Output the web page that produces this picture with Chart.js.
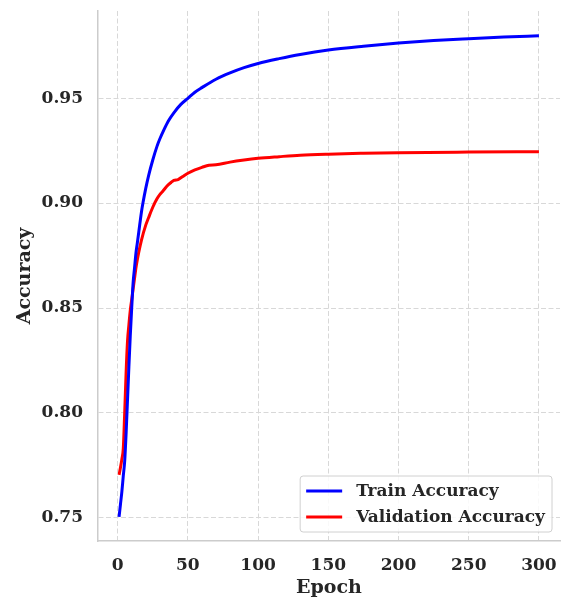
<!DOCTYPE html>
<html><head><meta charset="utf-8">
<script src="https://cdn.jsdelivr.net/npm/chart.js@4"></script>
<style>html,body{margin:0;padding:0;background:#fff}#wrap{width:561px;height:599px}</style>
</head><body><div id="wrap"><canvas id="c" width="561" height="599"></canvas></div>
<script>
const trainEpochs = [1,2,3,4,5,6,7,8,9,10,11,12,13,14,15,17,18,20,22,25,28,30,33,36,40,45,50,55,60,70,80,90,100,115,130,150,175,200,225,250,275,300];
const trainAcc = [0.7505,0.7565,0.7625,0.7700,0.7770,0.7900,0.8060,0.8220,0.8370,0.8500,0.8620,0.8690,0.8760,0.8810,0.8860,0.8960,0.9000,0.9070,0.9130,0.9205,0.9270,0.9305,0.9350,0.9390,0.9430,0.9470,0.9499,0.9528,0.9550,0.9590,0.9620,0.9645,0.9665,0.9688,0.9708,0.9729,0.9747,0.9762,0.9774,0.9783,0.9791,0.9797];
const valEpochs = [1,2,3,4,5,6,7,8,9,10,11,12,13,14,15,17,20,22,25,28,30,32,35,38,40,43,46,50,55,60,65,70,80,90,100,115,130,150,175,200,250,300];
const valAcc = [0.7705,0.7740,0.7780,0.7830,0.8000,0.8190,0.8340,0.8420,0.8490,0.8540,0.8590,0.8640,0.8690,0.8730,0.8765,0.8825,0.8895,0.8930,0.8980,0.9020,0.9040,0.9055,0.9080,0.9098,0.9108,0.9112,0.9125,0.9142,0.9158,0.9170,0.9180,0.9182,0.9195,0.9205,0.9213,0.9221,0.9228,0.9233,0.9237,0.9240,0.9243,0.9245];
const xTicks = [0,50,100,150,200,250,300];
const yTicks = [0.75,0.80,0.85,0.90,0.95];
const seriesLabels = ['Train Accuracy','Validation Accuracy'];
const xTitle = 'Epoch';
const yTitle = 'Accuracy';

const FONT = '"DejaVu Serif", serif';
const TXT = '#262626';

const legendPlugin = {
  id: 'boxLegend',
  afterDraw(chart) {
    const ctx = chart.ctx, ca = chart.chartArea;
    ctx.save();
    ctx.font = 'bold 17px ' + FONT;
    const ds = chart.data.datasets;
    let tw = 0;
    ds.forEach(d => { tw = Math.max(tw, ctx.measureText(d.label).width); });
    const padL = 6, lineLen = 36, gap = 14, padR = 7, rowH = 26;
    const w = padL + lineLen + gap + tw + padR;
    const h = 56;
    const right = ca.right - 8, bottom = ca.bottom - 9;
    const x0 = right - w, y0 = bottom - h;
    ctx.beginPath();
    ctx.roundRect(x0, y0, w, h, 3);
    ctx.fillStyle = 'rgba(255,255,255,0.85)';
    ctx.fill();
    ctx.lineWidth = 1;
    ctx.strokeStyle = '#d0d0d0';
    ctx.stroke();
    ds.forEach((d, i) => {
      const y = y0 + 15 + i * rowH;
      ctx.beginPath();
      ctx.moveTo(x0 + padL, y);
      ctx.lineTo(x0 + padL + lineLen, y);
      ctx.lineWidth = 3;
      ctx.strokeStyle = d.borderColor;
      ctx.stroke();
      ctx.fillStyle = TXT;
      ctx.textBaseline = 'middle';
      ctx.textAlign = 'left';
      ctx.fillText(d.label, x0 + padL + lineLen + gap, y + 1);
    });
    ctx.restore();
  }
};

const bgPlugin = {
  id: 'bg',
  beforeDraw(chart) {
    const ctx = chart.ctx;
    ctx.save(); ctx.fillStyle = '#fff'; ctx.fillRect(0, 0, chart.width, chart.height); ctx.restore();
  }
};

function zeroPad(s) { s.paddingLeft = 0; s.paddingRight = 0; s.paddingTop = 0; s.paddingBottom = 0; }

new Chart(document.getElementById('c'), {
  type: 'line',
  data: {
    datasets: [
      { label: seriesLabels[0], data: trainEpochs.map((e, i) => ({ x: e, y: trainAcc[i] })),
        borderColor: '#0000ff', borderWidth: 3, pointRadius: 0, cubicInterpolationMode: 'monotone', fill: false },
      { label: seriesLabels[1], data: valEpochs.map((e, i) => ({ x: e, y: valAcc[i] })),
        borderColor: '#ff0000', borderWidth: 3, pointRadius: 0, cubicInterpolationMode: 'monotone', fill: false }
    ]
  },
  options: {
    responsive: false,
    animation: false,
    devicePixelRatio: 1,
    layout: { padding: { top: 11, right: 1, left: 0, bottom: 0 } },
    plugins: { legend: { display: false }, tooltip: { enabled: false } },
    scales: {
      x: {
        type: 'linear', min: -14, max: 315,
        afterBuildTicks: s => { s.ticks = xTicks.map(v => ({ value: v })); },
        afterFit: s => { s.height = 58; zeroPad(s); },
        grid: { color: '#d8d8d8', lineWidth: 1, drawTicks: false },
        border: { display: true, color: '#cccccc', width: 1.5, dash: [5, 2.5] },
        ticks: { padding: 14, color: TXT, font: { family: FONT, size: 17, weight: 'bold' }, maxRotation: 0, callback: v => String(v) },
        title: { display: true, text: xTitle, color: TXT, font: { family: FONT, size: 19, weight: 'bold' }, padding: { top: 0, bottom: 0 } }
      },
      y: {
        type: 'linear', min: 0.739, max: 0.9915,
        afterBuildTicks: s => { s.ticks = yTicks.map(v => ({ value: v })); },
        afterFit: s => { s.width = 98; zeroPad(s); },
        grid: { color: '#d8d8d8', lineWidth: 1, drawTicks: false },
        border: { display: true, color: '#cccccc', width: 1.5, dash: [5, 2.5] },
        ticks: { padding: 15, color: TXT, font: { family: FONT, size: 17, weight: 'bold' }, callback: v => v.toFixed(2) },
        title: { display: true, text: yTitle, color: TXT, font: { family: FONT, size: 19, weight: 'bold' }, padding: { top: 14, bottom: 0 } }
      }
    }
  },
  plugins: [bgPlugin, legendPlugin]
});
</script></body></html>
